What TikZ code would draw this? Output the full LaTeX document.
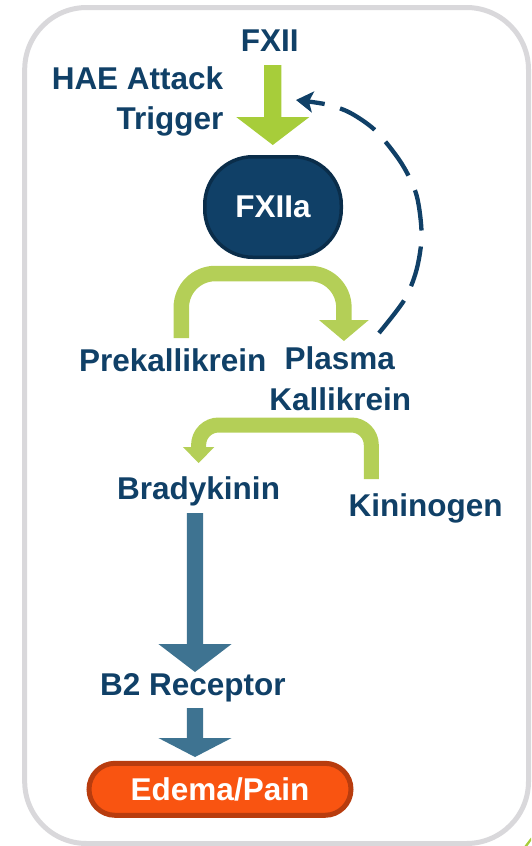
\documentclass[tikz,border=0pt]{standalone}
\usepackage{fontspec}
\setmainfont{Liberation Sans}
\usetikzlibrary{arrows.meta}
\definecolor{navy}{RGB}{16,64,103}
\definecolor{navydark}{RGB}{10,45,74}
\definecolor{greenA}{RGB}{167,205,58}
\definecolor{greenB}{RGB}{180,207,87}
\definecolor{blueA}{RGB}{62,115,145}
\definecolor{orangeA}{RGB}{249,84,17}
\definecolor{orangeD}{RGB}{184,60,14}
\definecolor{framegray}{RGB}{217,216,219}
\newcommand{\fatarr}[7]{%
  \fill[#1] (#2-#6,#3) -- (#2+#6,#3) -- (#2+#6,#4) -- (#2+#7,#4) -- (#2,#5) -- (#2-#7,#4) -- (#2-#6,#4) -- cycle;}
\begin{document}
\begin{tikzpicture}[x=1pt,y=-1pt,
  txt/.style={font=\fontsize{31.5}{40}\selectfont\bfseries, text=navy, inner sep=0pt, anchor=base},
  fxiibox/.style={draw=navydark, fill=navy, line width=3.5pt, rounded corners=48pt,
    minimum width=136.5pt, minimum height=100.5pt, inner sep=0pt, text=white,
    font=\fontsize{31.5}{40}\selectfont\bfseries},
  edemabox/.style={draw=orangeD, fill=orangeA, line width=5pt, rounded corners=26pt,
    minimum width=262pt, minimum height=52pt, inner sep=0pt, text=white, text depth=0pt,
    font=\fontsize{31.5}{40}\selectfont\bfseries}]
\useasboundingbox (0,0) rectangle (531,846);
% frame
\draw[framegray, line width=5pt, rounded corners=62pt] (24.7,7.5) rectangle (528.5,843.5);
\fill[greenA] (524.5,846) -- (531,837.5) -- (531,841) -- (527.5,846) -- cycle;
% texts
\node[txt] (fxii) at (269.7,51) {FXII};
\node[txt, anchor=base east] (hae1) at (223.5,89.3) {HAE Attack};
\node[txt, anchor=base east] (hae2) at (223.5,129.5) {Trigger};
\node[fxiibox] (fxiia) at (273,207) {FXIIa};
\node[txt] (prek) at (172.7,371) {Prekallikrein};
\node[txt] (pk1) at (339.8,369.3) {Plasma};
\node[txt] (pk2) at (340.3,410) {Kallikrein};
\node[txt] (brady) at (198.6,499.3) {Bradykinin};
\node[txt] (kin) at (425.7,516) {Kininogen};
\node[txt] (b2) at (193,695.3) {B2 Receptor};
\node[edemabox] (edema) at (220,789.3) {Edema/Pain};
% fat arrows
\fatarr{greenA}{272.8}{65}{117}{145}{8.6}{36.6}
\fatarr{blueA}{195}{513}{644}{672}{8.1}{36.6}
\fatarr{blueA}{195}{708}{738}{757}{8.1}{36.6}
% bent arrows
\draw[greenB, line width=15.5pt, rounded corners=34pt] (181.3,338) -- (181.3,273.5) -- (343.9,273.5) -- (343.9,321);
\fill[greenB] (319,320) -- (368.8,320) -- (343.9,341) -- cycle;
\draw[greenB, line width=15pt, rounded corners=20pt] (371.3,479) -- (371.3,425) -- (198.6,425) -- (198.6,448);
\fill[greenB] (182.9,447) -- (214.4,447) -- (198.6,463) -- cycle;
% dashed feedback
\draw[navy, line width=4.3pt, dash pattern=on 41pt off 16pt,
  -{Stealth[length=17pt,width=21pt,inset=4pt]}]
  plot[smooth] coordinates {(379,333) (404.3,300) (416.5,270) (421.6,235) (416.5,195) (401.3,163) (375.9,131) (350.5,113) (327,104.5) (296,100)};
\end{tikzpicture}
\end{document}
